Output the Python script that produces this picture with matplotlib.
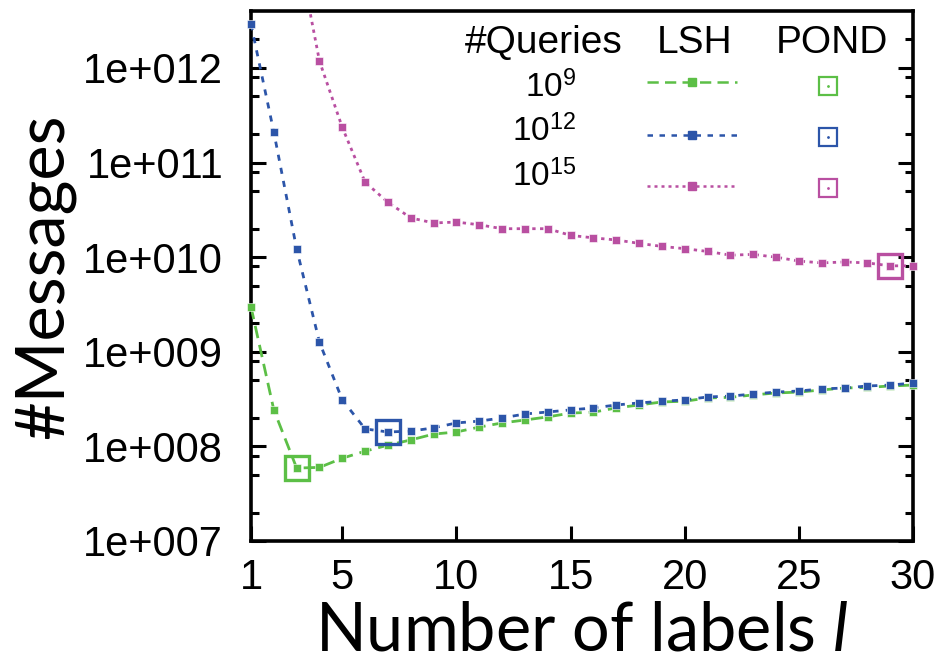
import matplotlib
matplotlib.use("Agg")
import matplotlib.pyplot as plt
from matplotlib.ticker import LogLocator, FixedLocator, FuncFormatter, NullFormatter
from matplotlib.lines import Line2D
import numpy as np

plt.rcParams['font.family'] = ['Liberation Sans', 'DejaVu Sans']
plt.rcParams['mathtext.fontset'] = 'custom'
plt.rcParams['mathtext.rm'] = 'Liberation Sans'
plt.rcParams['mathtext.it'] = 'Lato:italic'

# data
labels_l = list(range(1, 31))
msg_q9 = [2.98e9, 2.43e8, 5.9e7, 6.0e7, 7.5e7, 8.9e7, 1.03e8, 1.17e8, 1.35e8, 1.42e8,
          1.6e8, 1.77e8, 1.9e8, 2.05e8, 2.25e8, 2.3e8, 2.55e8, 2.74e8, 2.95e8, 3.0e8,
          3.25e8, 3.3e8, 3.5e8, 3.67e8, 3.75e8, 3.95e8, 4.14e8, 4.2e8, 4.35e8, 4.45e8]
msg_q12 = [2.9e12, 2.1e11, 1.22e10, 1.26e9, 3.1e8, 1.53e8, 1.42e8, 1.45e8, 1.57e8, 1.77e8,
           1.85e8, 2.0e8, 2.2e8, 2.31e8, 2.43e8, 2.55e8, 2.74e8, 2.88e8, 3.0e8, 3.1e8,
           3.33e8, 3.4e8, 3.58e8, 3.75e8, 3.85e8, 4.05e8, 4.14e8, 4.35e8, 4.45e8, 4.67e8]
labels_l15 = list(range(3, 31))
msg_q15 = [2.1e13, 1.18e12, 2.35e11, 6.2e10, 3.8e10, 2.6e10, 2.3e10, 2.35e10, 2.2e10, 2.0e10,
           2.0e10, 2.0e10, 1.7e10, 1.6e10, 1.52e10, 1.4e10, 1.3e10, 1.23e10, 1.15e10, 1.05e10,
           1.07e10, 1.0e10, 9.1e9, 8.7e9, 8.9e9, 8.7e9, 8.1e9, 8.1e9]
pond_l = [3, 7, 29]
pond_msg = [5.9e7, 1.42e8, 8.1e9]
query_names = ['$10^{9}$', '$10^{12}$', '$10^{15}$']

colors = ['#5cbf46', '#2c55a9', '#b94fa1']
dashes = [(4.5, 2.5), (2.2, 2.6), (1.2, 1.6)]
ylo, yhi = 1e7, 4.0e12

fig = plt.figure(figsize=(9.47, 6.70), dpi=100)
ax = fig.add_axes([251/947, 129/670, 662/947, 530/670])
ax.set_yscale('log')
ax.set_xlim(1, 30)
ax.set_ylim(ylo, yhi)

series = [(labels_l, msg_q9), (labels_l, msg_q12), (labels_l15, msg_q15)]
for i, (xs, ys) in enumerate(series):
    xs = np.array(xs)
    ys = np.array(ys)
    ax.plot(xs, ys, color=colors[i], lw=2.0, dashes=dashes[i], zorder=3)
    m = (ys >= ylo) & (ys <= yhi)
    ax.plot(xs[m], ys[m], ls='none', marker='s', ms=6.3, color=colors[i],
            mec='white', mew=0.4, clip_on=False, zorder=4)

for i in range(3):
    ax.plot(pond_l[i], pond_msg[i], ls='none', marker='s', ms=17.5, mfc='none',
            mec=colors[i], mew=2.4, clip_on=False, zorder=5)

for s in ax.spines.values():
    s.set_linewidth(2.6)

ax.xaxis.set_major_locator(FixedLocator([1, 5, 10, 15, 20, 25, 30]))
ax.yaxis.set_major_locator(LogLocator(base=10, numticks=20))
ax.yaxis.set_minor_locator(LogLocator(base=10, subs=[2, 5, 8], numticks=20))
ax.yaxis.set_major_formatter(FuncFormatter(lambda v, p: '1e+%03d' % int(round(np.log10(v)))))
ax.yaxis.set_minor_formatter(NullFormatter())
ax.tick_params(axis='y', which='both', direction='in', left=True, right=True, width=2.2,
               labelsize=30, pad=20)
ax.tick_params(axis='y', which='major', length=11)
ax.tick_params(axis='y', which='minor', length=6)
ax.tick_params(axis='x', which='major', direction='in', length=11, width=2.2, top=False,
               labelsize=30, pad=12)

ax.set_xlabel('Number of labels $l$', fontsize=48, family='Lato', labelpad=2)
ax.set_ylabel('#Messages', fontsize=48, family='Lato', labelpad=6)

# key in the top right corner
def pos(px, py):
    return (px - 251) / 662, (541 - py) / 530

for name, cx in [('#Queries', 544), ('LSH', 695), ('POND', 832)]:
    ax.text(*pos(cx, 43), name, transform=ax.transAxes, ha='center', va='center', fontsize=28)

line_y = [82, 135, 186]
text_y = [87, 131, 176]
pond_y = [86, 137, 188]
for i in range(3):
    ax.text(*pos(576, text_y[i]), query_names[i], transform=ax.transAxes,
            ha='right', va='center', fontsize=24)
    x0, y0 = pos(647, line_y[i])
    x1, _ = pos(737, line_y[i])
    ax.add_line(Line2D([x0, x1], [y0, y0], transform=ax.transAxes, color=colors[i],
                       lw=1.8, dashes=dashes[i]))
    ax.add_line(Line2D([(x0 + x1) / 2], [y0], transform=ax.transAxes, color=colors[i],
                       marker='s', ms=6, ls='none'))
    px, py = pos(828, pond_y[i])
    ax.add_line(Line2D([px], [py], transform=ax.transAxes, color=colors[i], marker='s',
                       ms=13.5, mfc='none', mew=1.6, ls='none'))
    ax.add_line(Line2D([px], [py], transform=ax.transAxes, color=colors[i], marker='.',
                       ms=2, ls='none'))

fig.savefig('out.png', dpi=100)
